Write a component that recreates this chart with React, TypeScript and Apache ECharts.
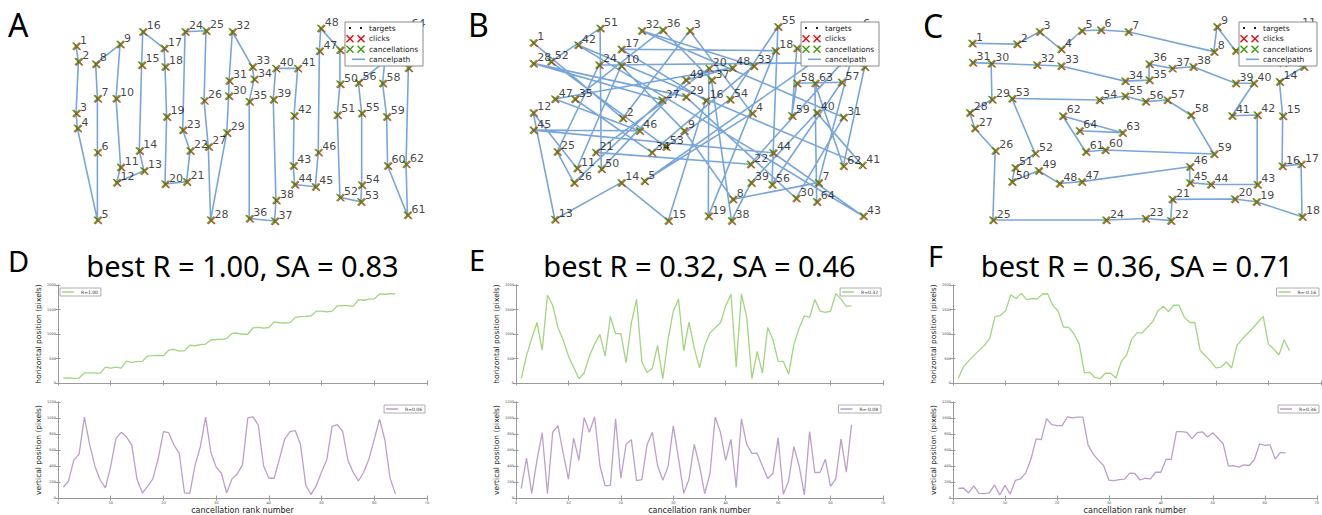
import React, { useEffect, useRef } from "react";
import * as echarts from "echarts";

// ---- data: target positions (pixels) in cancellation order ----
const panelAX = [94,106,94,101,205,205,205,196,323,302,326,305,447,423,435,441,552,557,565,557,669,687,649,661,770,760,782,794,878,888,890,907,1011,1020,995,995,1127,1134,1120,1133,1247,1228,1224,1231,1339,1354,1360,1367,1467,1467,1453,1467,1576,1580,1580,1563,1700,1689,1710,1715,1818,1811,1823,1818];
const panelAY = [136,214,474,549,1010,670,399,226,127,399,745,821,762,662,231,64,147,240,491,829,817,662,558,64,59,410,642,1010,571,387,310,64,240,302,415,1002,1015,910,404,248,248,486,737,831,843,670,161,47,156,327,482,896,918,834,474,320,214,323,491,737,985,729,246,54];
const panelBX = [90,558,909,1235,671,1795,1582,1134,879,550,319,90,203,550,796,992,550,1356,1006,1009,416,1226,1706,434,215,303,763,90,888,1465,1712,657,1243,710,307,767,1023,1127,1230,1573,1811,324,1816,1344,90,645,203,1131,888,446,440,182,784,1119,1370,1339,1703,1469,1443,1469,1824,1712,1564,1573];
const panelBY = [119,499,59,474,814,54,822,906,561,235,750,471,1007,822,1013,410,152,159,990,248,670,730,219,231,667,822,407,223,390,901,494,59,236,670,402,55,307,1013,822,471,734,131,990,672,558,561,402,245,307,754,47,214,642,404,39,831,318,323,486,147,240,739,323,918];
const panelCX = [99,333,451,563,671,770,914,1361,1377,1474,1800,1720,1830,1703,1720,1717,1816,1821,1582,1469,1143,1136,1004,798,208,220,113,87,203,199,102,437,563,897,1023,1023,1143,1252,1474,1568,1455,1587,1587,1344,1235,1235,671,555,446,307,324,428,307,763,897,1004,1117,1240,1361,793,692,572,883,659];
const panelCY = [122,126,64,152,59,55,64,164,39,159,50,220,240,315,487,739,729,993,918,904,906,1013,1002,1010,1010,662,549,471,404,223,219,231,236,312,307,226,248,240,323,323,486,482,831,831,822,742,817,826,762,817,747,675,399,407,387,415,407,482,678,658,667,487,571,561];

const topLetters = ["A", "B", "C"];
const bottomLetters = ["D", "E", "F"];
const titles = ["best R = 1.00, SA = 0.83", "best R = 0.32, SA = 0.46", "best R = 0.36, SA = 0.71"];
const horizLegends = ["R=1.00", "R=0.32", "R=-0.16"];
const vertLegends = ["R=0.06", "R=-0.08", "R=0.36"];
const legendNames = ["targets", "clicks", "cancellations", "cancelpath"];
const screenRange = { width: 1920, height: 1080 };
const rankAxis = { min: 0, max: 70, interval: 10 };
const horizAxis = { min: 0, max: 2000, interval: 500 };
const vertAxis = { min: 0, max: 1200, interval: 200 };
const xLabelName = "cancellation rank number";
const yLabelTop = "horizontal position (pixels)";
const yLabelBottom = "vertical position (pixels)";

const panels = [
  { xs: panelAX, ys: panelAY },
  { xs: panelBX, ys: panelBY },
  { xs: panelCX, ys: panelCY },
];

// ---- layout / style ----
const W = 1322;
const H = 515;
const cols = [
  { left: 58, width: 369 },
  { left: 516, width: 367 },
  { left: 953, width: 368 },
];
const topLetterPos = [{ x: 8, y: 24 }, { x: 468, y: 24 }, { x: 923, y: 25 }];
const bottomLetterPos = [{ x: 8, y: 260 }, { x: 469, y: 259 }, { x: 928, y: 255 }];
const scatterTop = 19;
const scatterH = 215;
const lineRows = [
  { top: 285, height: 98 },
  { top: 402, height: 97 },
];
const LEG_W = 78;
const LEG_H = 44;
const LEG_TOP = 22;
const LABEL_SIZE = 11;
const RED = "#dd1111";
const GREEN = "#3d9d0a";
const BLUE = "#78a6db";
const LGREEN = "#a3d57f";
const LPURPLE = "#bba0c9";
const FRAME = "#9a9a9a";
const X_SYMBOL = "path://M0,0L10,10M10,0L0,10";
const SANS = "'DejaVu Sans', sans-serif";
const TITLEFONT = "'Noto Sans', sans-serif";

function buildOption() {
  const grid: any[] = [];
  const xAxis: any[] = [];
  const yAxis: any[] = [];
  const series: any[] = [];
  const legend: any[] = [];
  const graphic: any[] = [];

  // scatter panels
  panels.forEach((p, c) => {
    const gi = grid.length;
    const right = cols[c].left + cols[c].width;
    const bx = right - 82;
    const by = LEG_TOP;
    grid.push({ left: cols[c].left, top: scatterTop, width: cols[c].width, height: scatterH });
    xAxis.push({ gridIndex: gi, type: "value", min: 0, max: screenRange.width, show: false });
    yAxis.push({ gridIndex: gi, type: "value", min: 0, max: screenRange.height, inverse: true, show: false });
    const pts = p.xs.map((x, i) => [x, p.ys[i]]);
    const ax = xAxis.length - 1;
    const ay = yAxis.length - 1;

    // a label that would sit entirely beneath the opaque legend box is not drawn
    const labelHidden = (i: number) => {
      const px = cols[c].left + (p.xs[i] / screenRange.width) * cols[c].width;
      const py = scatterTop + (p.ys[i] / screenRange.height) * scatterH;
      const txt = String(i + 1);
      const l = px + 1.5;
      const t = py - 6 - LABEL_SIZE / 2;
      const r = l + txt.length * LABEL_SIZE * 0.64;
      return t >= by && t < by + LEG_H && l >= bx - 2 && l < bx + LEG_W && r > bx;
    };

    series.push({
      name: legendNames[3], type: "line", xAxisIndex: ax, yAxisIndex: ay, data: pts,
      symbol: "none", lineStyle: { color: BLUE, width: 1.6 }, z: 2, silent: true,
    });
    series.push({
      name: legendNames[0], type: "scatter", xAxisIndex: ax, yAxisIndex: ay, data: pts,
      symbol: "circle", symbolSize: 2, itemStyle: { color: "#000" }, z: 3,
    });
    series.push({
      name: legendNames[1], type: "scatter", xAxisIndex: ax, yAxisIndex: ay, data: pts,
      symbol: X_SYMBOL, symbolSize: 7, symbolOffset: [1, 0.5],
      itemStyle: { color: "none", borderColor: RED, borderWidth: 1.4 }, z: 4,
    });
    series.push({
      name: legendNames[2], type: "scatter", xAxisIndex: ax, yAxisIndex: ay, data: pts,
      symbol: X_SYMBOL, symbolSize: 7,
      itemStyle: { color: "none", borderColor: GREEN, borderWidth: 1.4 }, z: 5,
      label: {
        show: true, position: "right", distance: 0, offset: [-2, -6],
        formatter: (q: any) => (labelHidden(q.dataIndex) ? "" : String(q.dataIndex + 1)),
        fontSize: LABEL_SIZE, fontFamily: SANS, color: "#111",
      },
    });

    // legend box (matplotlib style)
    graphic.push({ type: "rect", z: 100, shape: { x: bx, y: by, width: LEG_W, height: LEG_H }, style: { fill: "#fff", stroke: "#8a8a8a", lineWidth: 1 } });
    const rows = [by + 6, by + 16.8, by + 27.3, by + 37.3];
    [bx + 5, bx + 16].forEach((cx) => {
      graphic.push({ type: "circle", z: 101, shape: { cx, cy: rows[0], r: 1.1 }, style: { fill: "#000" } });
      [RED, GREEN].forEach((col, k) => {
        const cy = rows[1 + k];
        graphic.push({ type: "line", z: 101, shape: { x1: cx - 3.5, y1: cy - 3.5, x2: cx + 3.5, y2: cy + 3.5 }, style: { stroke: col, lineWidth: 1.4 } });
        graphic.push({ type: "line", z: 101, shape: { x1: cx + 3.5, y1: cy - 3.5, x2: cx - 3.5, y2: cy + 3.5 }, style: { stroke: col, lineWidth: 1.4 } });
      });
    });
    graphic.push({ type: "line", z: 101, shape: { x1: bx + 7, y1: rows[3], x2: bx + 20, y2: rows[3] }, style: { stroke: BLUE, lineWidth: 1.6 } });
    legendNames.forEach((nm, k) => {
      graphic.push({ type: "text", z: 101, x: bx + 24, y: rows[k], style: { text: nm, fontSize: 7.5, fontFamily: SANS, fill: "#222", verticalAlign: "middle", align: "left" } });
    });

    graphic.push({ type: "text", x: topLetterPos[c].x, y: topLetterPos[c].y, style: { text: topLetters[c], fontSize: 32, fontFamily: TITLEFONT, fill: "#000", verticalAlign: "middle", align: "left" } });
  });

  const tickFmt = (v: number) => String(v);

  // line panels
  panels.forEach((p, c) => {
    lineRows.forEach((r, ri) => {
      const gi = grid.length;
      grid.push({ left: cols[c].left, top: r.top, width: cols[c].width, height: r.height });
      const yr = ri === 0 ? horizAxis : vertAxis;
      const baseX = {
        gridIndex: gi, type: "value", min: rankAxis.min, max: rankAxis.max, interval: rankAxis.interval,
        axisLine: { show: true, lineStyle: { color: FRAME, width: 1 } },
        axisTick: { show: true, inside: true, length: 2.5, lineStyle: { color: FRAME } },
        splitLine: { show: false },
      };
      xAxis.push({
        ...baseX, position: "bottom",
        axisLabel: { show: ri === 1, fontSize: 3.5, color: "#444", margin: 3, fontFamily: SANS, formatter: tickFmt },
        name: ri === 1 ? xLabelName : "", nameLocation: "middle", nameGap: 5,
        nameTextStyle: { fontSize: 8, color: "#222", fontFamily: SANS, verticalAlign: "top" },
      });
      const axb = xAxis.length - 1;
      xAxis.push({ ...baseX, position: "top", axisLabel: { show: false } });
      const baseY = {
        gridIndex: gi, type: "value", min: yr.min, max: yr.max, interval: yr.interval,
        axisLine: { show: true, lineStyle: { color: FRAME, width: 1 } },
        axisTick: { show: true, inside: true, length: 2.5, lineStyle: { color: FRAME } },
        splitLine: { show: false },
      };
      yAxis.push({
        ...baseY, position: "left",
        axisLabel: { show: true, fontSize: 3.5, color: "#444", margin: 2, fontFamily: SANS, formatter: tickFmt },
        name: ri === 0 ? yLabelTop : yLabelBottom, nameLocation: "middle", nameGap: 16, nameRotate: 90,
        nameTextStyle: { fontSize: 7.5, color: "#222", fontFamily: SANS },
      });
      const ayl = yAxis.length - 1;
      yAxis.push({ ...baseY, position: "right", axisLabel: { show: false } });

      const vals = ri === 0 ? p.xs : p.ys;
      const nm = ri === 0 ? horizLegends[c] : vertLegends[c];
      const col = ri === 0 ? LGREEN : LPURPLE;
      series.push({
        name: nm, type: "line", xAxisIndex: axb, yAxisIndex: ayl,
        data: vals.map((v, i) => [i + 1, v]), symbol: "none",
        lineStyle: { color: col, width: 1.3 }, itemStyle: { color: col },
      });
      const leftLegend = c === 0 && ri === 0;
      const rightEdge = cols[c].left + cols[c].width - 2;
      legend.push({
        data: [nm], orient: "horizontal",
        ...(leftLegend ? { left: cols[c].left + 2 } : { right: W - rightEdge }),
        top: r.top + 3, icon: "rect", itemWidth: 12, itemHeight: 1.5, itemGap: 0,
        padding: [1.5, 3, 1.5, 2], borderColor: "#999", borderWidth: 0.8, backgroundColor: "#fff",
        textStyle: { fontSize: 4.5, color: "#333", fontFamily: SANS, padding: [0, 0, 0, 2] },
        selectedMode: false,
      });
    });
    const center = cols[c].left + cols[c].width / 2;
    graphic.push({ type: "text", x: center, y: 265, style: { text: titles[c], fontSize: 29, fontFamily: TITLEFONT, fill: "#000", align: "center", verticalAlign: "middle" } });
    graphic.push({ type: "text", x: bottomLetterPos[c].x, y: bottomLetterPos[c].y, style: { text: bottomLetters[c], fontSize: 29, fontFamily: TITLEFONT, fill: "#000", verticalAlign: "middle", align: "left" } });
  });

  return {
    animation: false,
    backgroundColor: "#fff",
    grid, xAxis, yAxis, series, legend, graphic,
  };
}

export default function App() {
  const ref = useRef<HTMLDivElement>(null);
  useEffect(() => {
    if (!ref.current) return;
    const chart = echarts.init(ref.current, undefined, { renderer: "svg" });
    chart.setOption(buildOption() as any);
    return () => chart.dispose();
  }, []);
  return <div ref={ref} style={{ position: "absolute", left: 0, top: 0, width: W, height: H }} />;
}
